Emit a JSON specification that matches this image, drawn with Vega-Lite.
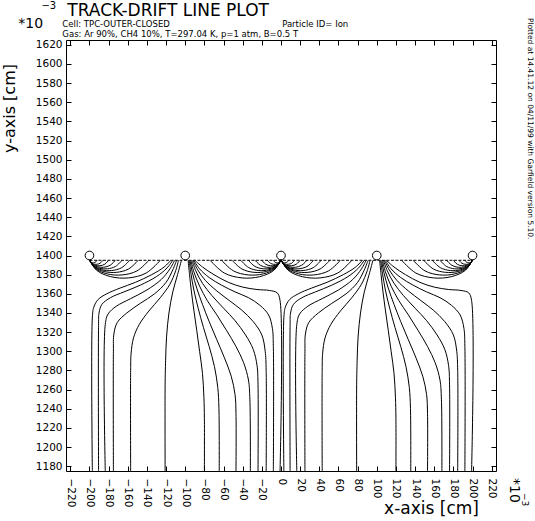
{
"$schema": "https://vega.github.io/schema/vega-lite/v6.json",
"width": 430, "height": 431,
"autosize": "none",
"padding": {"left": 66, "top": 40, "right": 39, "bottom": 50},
"background": "white",
"config": {
  "font": "DejaVu Sans",
  "view": {"stroke": "black", "strokeWidth": 1},
  "axis": {"grid": false, "domain": false, "tickColor": "black", "labelColor": "black", "titleColor": "black", "labelFont": "DejaVu Sans", "titleFont": "DejaVu Sans", "titleFontWeight": "normal", "labelFontSize": 10.5, "titleFontSize": 17, "labelFlush": false, "labelOverlap": false, "labelBound": false}
},
"datasets": {
"lines": [
{"g":"L1","x":-115,"y":1395},{"g":"L1","x":-122,"y":1388},{"g":"L1","x":-135,"y":1380},{"g":"L1","x":-152,"y":1372},{"g":"L1","x":-168,"y":1366},{"g":"L1","x":-182,"y":1360},{"g":"L1","x":-191,"y":1354},{"g":"L1","x":-195.5,"y":1346},{"g":"L1","x":-197,"y":1335},{"g":"L1","x":-197,"y":1175},
{"g":"L2","x":-113,"y":1395},{"g":"L2","x":-119,"y":1387},{"g":"L2","x":-130,"y":1378},{"g":"L2","x":-147,"y":1369},{"g":"L2","x":-164,"y":1362},{"g":"L2","x":-178,"y":1356},{"g":"L2","x":-187,"y":1349},{"g":"L2","x":-190,"y":1340},{"g":"L2","x":-190.5,"y":1327},{"g":"L2","x":-190.5,"y":1175},
{"g":"L3","x":-111,"y":1395},{"g":"L3","x":-116,"y":1386},{"g":"L3","x":-125,"y":1375},{"g":"L3","x":-140,"y":1364},{"g":"L3","x":-157,"y":1355},{"g":"L3","x":-172,"y":1347},{"g":"L3","x":-180.5,"y":1339},{"g":"L3","x":-183.5,"y":1328},{"g":"L3","x":-183.5,"y":1175},
{"g":"L4","x":-109,"y":1395},{"g":"L4","x":-113,"y":1385},{"g":"L4","x":-120,"y":1372},{"g":"L4","x":-132,"y":1360},{"g":"L4","x":-147,"y":1350},{"g":"L4","x":-161,"y":1340},{"g":"L4","x":-171,"y":1330},{"g":"L4","x":-174.5,"y":1318},{"g":"L4","x":-175,"y":1300},{"g":"L4","x":-175,"y":1175},
{"g":"L5","x":-107,"y":1395},{"g":"L5","x":-110,"y":1384},{"g":"L5","x":-116,"y":1370},{"g":"L5","x":-126,"y":1356},{"g":"L5","x":-138,"y":1342},{"g":"L5","x":-148,"y":1328},{"g":"L5","x":-154,"y":1314},{"g":"L5","x":-156.5,"y":1298},{"g":"L5","x":-157,"y":1280},{"g":"L5","x":-157,"y":1175},
{"g":"L6","x":-104,"y":1395},{"g":"L6","x":-108,"y":1380},{"g":"L6","x":-113,"y":1362},{"g":"L6","x":-117,"y":1340},{"g":"L6","x":-119.5,"y":1315},{"g":"L6","x":-120.5,"y":1290},{"g":"L6","x":-121,"y":1265},{"g":"L6","x":-121,"y":1175},
{"g":"R1","x":-97,"y":1395},{"g":"R1","x":-95.5,"y":1380},{"g":"R1","x":-93.5,"y":1362},{"g":"R1","x":-91,"y":1343},{"g":"R1","x":-88,"y":1322},{"g":"R1","x":-85,"y":1300},{"g":"R1","x":-82,"y":1277},{"g":"R1","x":-80.5,"y":1252},{"g":"R1","x":-80,"y":1230},{"g":"R1","x":-80,"y":1175},
{"g":"R2","x":-96,"y":1395},{"g":"R2","x":-94,"y":1381},{"g":"R2","x":-91,"y":1364},{"g":"R2","x":-86.5,"y":1345},{"g":"R2","x":-81,"y":1325},{"g":"R2","x":-75,"y":1305},{"g":"R2","x":-69.5,"y":1284},{"g":"R2","x":-66,"y":1262},{"g":"R2","x":-64.8,"y":1240},{"g":"R2","x":-64.5,"y":1175},
{"g":"R3","x":-95,"y":1395},{"g":"R3","x":-92.5,"y":1382},{"g":"R3","x":-88,"y":1366},{"g":"R3","x":-82,"y":1349},{"g":"R3","x":-75,"y":1331},{"g":"R3","x":-67,"y":1312},{"g":"R3","x":-59,"y":1293},{"g":"R3","x":-52,"y":1274},{"g":"R3","x":-48,"y":1255},{"g":"R3","x":-47,"y":1235},{"g":"R3","x":-47,"y":1175},
{"g":"R4","x":-94,"y":1395},{"g":"R4","x":-91,"y":1383},{"g":"R4","x":-85,"y":1368},{"g":"R4","x":-77,"y":1353},{"g":"R4","x":-67,"y":1338},{"g":"R4","x":-57,"y":1322},{"g":"R4","x":-47,"y":1305},{"g":"R4","x":-39,"y":1288},{"g":"R4","x":-34,"y":1270},{"g":"R4","x":-32.5,"y":1250},{"g":"R4","x":-32,"y":1175},
{"g":"R5","x":-93,"y":1395},{"g":"R5","x":-89,"y":1384},{"g":"R5","x":-82,"y":1371},{"g":"R5","x":-72,"y":1358},{"g":"R5","x":-60,"y":1345},{"g":"R5","x":-48,"y":1332},{"g":"R5","x":-37,"y":1317},{"g":"R5","x":-29,"y":1302},{"g":"R5","x":-25,"y":1285},{"g":"R5","x":-24,"y":1265},{"g":"R5","x":-24,"y":1175},
{"g":"R6","x":-92,"y":1395},{"g":"R6","x":-87,"y":1385},{"g":"R6","x":-79,"y":1374},{"g":"R6","x":-67,"y":1363},{"g":"R6","x":-54,"y":1353},{"g":"R6","x":-41,"y":1343},{"g":"R6","x":-29,"y":1331},{"g":"R6","x":-20,"y":1317},{"g":"R6","x":-16.5,"y":1300},{"g":"R6","x":-15.5,"y":1280},{"g":"R6","x":-15.5,"y":1175},
{"g":"R7","x":-91,"y":1395},{"g":"R7","x":-85,"y":1386},{"g":"R7","x":-75,"y":1377},{"g":"R7","x":-62,"y":1369},{"g":"R7","x":-48,"y":1362},{"g":"R7","x":-34,"y":1356},{"g":"R7","x":-22,"y":1348},{"g":"R7","x":-13,"y":1338},{"g":"R7","x":-9,"y":1324},{"g":"R7","x":-8,"y":1305},{"g":"R7","x":-8,"y":1175},
{"g":"RB","x":-90,"y":1395},{"g":"RB","x":-82,"y":1388},{"g":"RB","x":-70,"y":1380},{"g":"RB","x":-55,"y":1372},{"g":"RB","x":-40,"y":1367},{"g":"RB","x":-25,"y":1364.5},{"g":"RB","x":-12,"y":1363.5},{"g":"RB","x":-4,"y":1361},{"g":"RB","x":-1,"y":1353},{"g":"RB","x":-1,"y":1175},
{"g":"L1b","x":85,"y":1395},{"g":"L1b","x":78,"y":1388},{"g":"L1b","x":65,"y":1380},{"g":"L1b","x":48,"y":1372},{"g":"L1b","x":32,"y":1366},{"g":"L1b","x":18,"y":1360},{"g":"L1b","x":9,"y":1354},{"g":"L1b","x":4.5,"y":1346},{"g":"L1b","x":3,"y":1335},{"g":"L1b","x":3,"y":1175},
{"g":"L2b","x":87,"y":1395},{"g":"L2b","x":81,"y":1387},{"g":"L2b","x":70,"y":1378},{"g":"L2b","x":53,"y":1369},{"g":"L2b","x":36,"y":1362},{"g":"L2b","x":22,"y":1356},{"g":"L2b","x":13,"y":1349},{"g":"L2b","x":10,"y":1340},{"g":"L2b","x":9.5,"y":1327},{"g":"L2b","x":9.5,"y":1175},
{"g":"L3b","x":89,"y":1395},{"g":"L3b","x":84,"y":1386},{"g":"L3b","x":75,"y":1375},{"g":"L3b","x":60,"y":1364},{"g":"L3b","x":43,"y":1355},{"g":"L3b","x":28,"y":1347},{"g":"L3b","x":19.5,"y":1339},{"g":"L3b","x":16.5,"y":1328},{"g":"L3b","x":16.5,"y":1175},
{"g":"L4b","x":91,"y":1395},{"g":"L4b","x":87,"y":1385},{"g":"L4b","x":80,"y":1372},{"g":"L4b","x":68,"y":1360},{"g":"L4b","x":53,"y":1350},{"g":"L4b","x":39,"y":1340},{"g":"L4b","x":29,"y":1330},{"g":"L4b","x":25.5,"y":1318},{"g":"L4b","x":25,"y":1300},{"g":"L4b","x":25,"y":1175},
{"g":"L5b","x":93,"y":1395},{"g":"L5b","x":90,"y":1384},{"g":"L5b","x":84,"y":1370},{"g":"L5b","x":74,"y":1356},{"g":"L5b","x":62,"y":1342},{"g":"L5b","x":52,"y":1328},{"g":"L5b","x":46,"y":1314},{"g":"L5b","x":43.5,"y":1298},{"g":"L5b","x":43,"y":1280},{"g":"L5b","x":43,"y":1175},
{"g":"L6b","x":96,"y":1395},{"g":"L6b","x":92,"y":1380},{"g":"L6b","x":87,"y":1362},{"g":"L6b","x":83,"y":1340},{"g":"L6b","x":80.5,"y":1315},{"g":"L6b","x":79.5,"y":1290},{"g":"L6b","x":79,"y":1265},{"g":"L6b","x":79,"y":1175},
{"g":"R1b","x":103,"y":1395},{"g":"R1b","x":104.5,"y":1380},{"g":"R1b","x":106.5,"y":1362},{"g":"R1b","x":109,"y":1343},{"g":"R1b","x":112,"y":1322},{"g":"R1b","x":115,"y":1300},{"g":"R1b","x":118,"y":1277},{"g":"R1b","x":119.5,"y":1252},{"g":"R1b","x":120,"y":1230},{"g":"R1b","x":120,"y":1175},
{"g":"R2b","x":104,"y":1395},{"g":"R2b","x":106,"y":1381},{"g":"R2b","x":109,"y":1364},{"g":"R2b","x":113.5,"y":1345},{"g":"R2b","x":119,"y":1325},{"g":"R2b","x":125,"y":1305},{"g":"R2b","x":130.5,"y":1284},{"g":"R2b","x":134,"y":1262},{"g":"R2b","x":135.2,"y":1240},{"g":"R2b","x":135.5,"y":1175},
{"g":"R3b","x":105,"y":1395},{"g":"R3b","x":107.5,"y":1382},{"g":"R3b","x":112,"y":1366},{"g":"R3b","x":118,"y":1349},{"g":"R3b","x":125,"y":1331},{"g":"R3b","x":133,"y":1312},{"g":"R3b","x":141,"y":1293},{"g":"R3b","x":148,"y":1274},{"g":"R3b","x":152,"y":1255},{"g":"R3b","x":153,"y":1235},{"g":"R3b","x":153,"y":1175},
{"g":"R4b","x":106,"y":1395},{"g":"R4b","x":109,"y":1383},{"g":"R4b","x":115,"y":1368},{"g":"R4b","x":123,"y":1353},{"g":"R4b","x":133,"y":1338},{"g":"R4b","x":143,"y":1322},{"g":"R4b","x":153,"y":1305},{"g":"R4b","x":161,"y":1288},{"g":"R4b","x":166,"y":1270},{"g":"R4b","x":167.5,"y":1250},{"g":"R4b","x":168,"y":1175},
{"g":"R5b","x":107,"y":1395},{"g":"R5b","x":111,"y":1384},{"g":"R5b","x":118,"y":1371},{"g":"R5b","x":128,"y":1358},{"g":"R5b","x":140,"y":1345},{"g":"R5b","x":152,"y":1332},{"g":"R5b","x":163,"y":1317},{"g":"R5b","x":171,"y":1302},{"g":"R5b","x":175,"y":1285},{"g":"R5b","x":176,"y":1265},{"g":"R5b","x":176,"y":1175},
{"g":"R6b","x":108,"y":1395},{"g":"R6b","x":113,"y":1385},{"g":"R6b","x":121,"y":1374},{"g":"R6b","x":133,"y":1363},{"g":"R6b","x":146,"y":1353},{"g":"R6b","x":159,"y":1343},{"g":"R6b","x":171,"y":1331},{"g":"R6b","x":180,"y":1317},{"g":"R6b","x":183.5,"y":1300},{"g":"R6b","x":184.5,"y":1280},{"g":"R6b","x":184.5,"y":1175},
{"g":"R7b","x":109,"y":1395},{"g":"R7b","x":115,"y":1386},{"g":"R7b","x":125,"y":1377},{"g":"R7b","x":138,"y":1369},{"g":"R7b","x":152,"y":1362},{"g":"R7b","x":166,"y":1356},{"g":"R7b","x":178,"y":1348},{"g":"R7b","x":187,"y":1338},{"g":"R7b","x":191,"y":1324},{"g":"R7b","x":192,"y":1305},{"g":"R7b","x":192,"y":1175},
{"g":"RBb","x":110,"y":1395},{"g":"RBb","x":118,"y":1388},{"g":"RBb","x":130,"y":1380},{"g":"RBb","x":145,"y":1372},{"g":"RBb","x":160,"y":1367},{"g":"RBb","x":175,"y":1364.5},{"g":"RBb","x":188,"y":1363.5},{"g":"RBb","x":196,"y":1361},{"g":"RBb","x":199,"y":1353},{"g":"RBb","x":199,"y":1175},
{"g":"A1","x":-192,"y":1395},{"g":"A1","x":-193.6,"y":1393.1},{"g":"A1","x":-195.6,"y":1392.4},{"g":"A1","x":-197.6,"y":1392.6},{"g":"A1","x":-199.2,"y":1393.5},{"g":"A1","x":-200,"y":1396},
{"g":"A2","x":-186,"y":1395},{"g":"A2","x":-188.8,"y":1392},{"g":"A2","x":-192.3,"y":1390.8},{"g":"A2","x":-195.8,"y":1391.1},{"g":"A2","x":-198.6,"y":1392.6},{"g":"A2","x":-200,"y":1396},
{"g":"A3","x":-180,"y":1395},{"g":"A3","x":-184,"y":1390.9},{"g":"A3","x":-189,"y":1389.3},{"g":"A3","x":-194,"y":1389.7},{"g":"A3","x":-198,"y":1391.8},{"g":"A3","x":-200,"y":1396},
{"g":"A4","x":-173,"y":1395},{"g":"A4","x":-178.4,"y":1389.8},{"g":"A4","x":-185.1,"y":1387.7},{"g":"A4","x":-191.9,"y":1388.3},{"g":"A4","x":-197.3,"y":1390.9},{"g":"A4","x":-200,"y":1396},
{"g":"A5","x":-166,"y":1395},{"g":"A5","x":-172.8,"y":1388.6},{"g":"A5","x":-181.3,"y":1386.1},{"g":"A5","x":-189.8,"y":1386.7},{"g":"A5","x":-196.6,"y":1389.9},{"g":"A5","x":-200,"y":1396},
{"g":"A6","x":-158,"y":1395},{"g":"A6","x":-166.4,"y":1387.3},{"g":"A6","x":-176.9,"y":1384.3},{"g":"A6","x":-187.4,"y":1385.1},{"g":"A6","x":-195.8,"y":1389},{"g":"A6","x":-200,"y":1396},
{"g":"A7","x":-149,"y":1395},{"g":"A7","x":-159.2,"y":1385.9},{"g":"A7","x":-171.9,"y":1382.4},{"g":"A7","x":-184.7,"y":1383.3},{"g":"A7","x":-194.9,"y":1387.9},{"g":"A7","x":-200,"y":1396},
{"g":"A8","x":-138,"y":1395},{"g":"A8","x":-150.4,"y":1383.9},{"g":"A8","x":-165.9,"y":1379.7},{"g":"A8","x":-181.4,"y":1380.8},{"g":"A8","x":-193.8,"y":1386.3},{"g":"A8","x":-200,"y":1396},
{"g":"A9","x":-126,"y":1395},{"g":"A9","x":-140.8,"y":1381.7},{"g":"A9","x":-159.3,"y":1376.6},{"g":"A9","x":-177.8,"y":1377.9},{"g":"A9","x":-192.6,"y":1384.6},{"g":"A9","x":-200,"y":1396},
{"g":"B1","x":-8,"y":1395},{"g":"B1","x":-6.4,"y":1393.1},{"g":"B1","x":-4.4,"y":1392.4},{"g":"B1","x":-2.4,"y":1392.6},{"g":"B1","x":-0.8,"y":1393.5},{"g":"B1","x":0,"y":1396},
{"g":"B2","x":-14,"y":1395},{"g":"B2","x":-11.2,"y":1392},{"g":"B2","x":-7.7,"y":1390.8},{"g":"B2","x":-4.2,"y":1391.1},{"g":"B2","x":-1.4,"y":1392.6},{"g":"B2","x":0,"y":1396},
{"g":"B3","x":-20,"y":1395},{"g":"B3","x":-16,"y":1390.9},{"g":"B3","x":-11,"y":1389.3},{"g":"B3","x":-6,"y":1389.7},{"g":"B3","x":-2,"y":1391.8},{"g":"B3","x":0,"y":1396},
{"g":"B4","x":-27,"y":1395},{"g":"B4","x":-21.6,"y":1389.8},{"g":"B4","x":-14.9,"y":1387.7},{"g":"B4","x":-8.1,"y":1388.3},{"g":"B4","x":-2.7,"y":1390.9},{"g":"B4","x":0,"y":1396},
{"g":"B5","x":-34,"y":1395},{"g":"B5","x":-27.2,"y":1388.6},{"g":"B5","x":-18.7,"y":1386.1},{"g":"B5","x":-10.2,"y":1386.7},{"g":"B5","x":-3.4,"y":1389.9},{"g":"B5","x":0,"y":1396},
{"g":"B6","x":-42,"y":1395},{"g":"B6","x":-33.6,"y":1387.3},{"g":"B6","x":-23.1,"y":1384.3},{"g":"B6","x":-12.6,"y":1385.1},{"g":"B6","x":-4.2,"y":1389},{"g":"B6","x":0,"y":1396},
{"g":"B7","x":-51,"y":1395},{"g":"B7","x":-40.8,"y":1385.9},{"g":"B7","x":-28.1,"y":1382.4},{"g":"B7","x":-15.3,"y":1383.3},{"g":"B7","x":-5.1,"y":1387.9},{"g":"B7","x":0,"y":1396},
{"g":"B8","x":-62,"y":1395},{"g":"B8","x":-49.6,"y":1383.9},{"g":"B8","x":-34.1,"y":1379.7},{"g":"B8","x":-18.6,"y":1380.8},{"g":"B8","x":-6.2,"y":1386.3},{"g":"B8","x":0,"y":1396},
{"g":"B9","x":-74,"y":1395},{"g":"B9","x":-59.2,"y":1381.7},{"g":"B9","x":-40.7,"y":1376.6},{"g":"B9","x":-22.2,"y":1377.9},{"g":"B9","x":-7.4,"y":1384.6},{"g":"B9","x":0,"y":1396},
{"g":"C1","x":8,"y":1395},{"g":"C1","x":6.4,"y":1393.1},{"g":"C1","x":4.4,"y":1392.4},{"g":"C1","x":2.4,"y":1392.6},{"g":"C1","x":0.8,"y":1393.5},{"g":"C1","x":0,"y":1396},
{"g":"C2","x":14,"y":1395},{"g":"C2","x":11.2,"y":1392},{"g":"C2","x":7.7,"y":1390.8},{"g":"C2","x":4.2,"y":1391.1},{"g":"C2","x":1.4,"y":1392.6},{"g":"C2","x":0,"y":1396},
{"g":"C3","x":20,"y":1395},{"g":"C3","x":16,"y":1390.9},{"g":"C3","x":11,"y":1389.3},{"g":"C3","x":6,"y":1389.7},{"g":"C3","x":2,"y":1391.8},{"g":"C3","x":0,"y":1396},
{"g":"C4","x":27,"y":1395},{"g":"C4","x":21.6,"y":1389.8},{"g":"C4","x":14.9,"y":1387.7},{"g":"C4","x":8.1,"y":1388.3},{"g":"C4","x":2.7,"y":1390.9},{"g":"C4","x":0,"y":1396},
{"g":"C5","x":34,"y":1395},{"g":"C5","x":27.2,"y":1388.6},{"g":"C5","x":18.7,"y":1386.1},{"g":"C5","x":10.2,"y":1386.7},{"g":"C5","x":3.4,"y":1389.9},{"g":"C5","x":0,"y":1396},
{"g":"C6","x":42,"y":1395},{"g":"C6","x":33.6,"y":1387.3},{"g":"C6","x":23.1,"y":1384.3},{"g":"C6","x":12.6,"y":1385.1},{"g":"C6","x":4.2,"y":1389},{"g":"C6","x":0,"y":1396},
{"g":"C7","x":51,"y":1395},{"g":"C7","x":40.8,"y":1385.9},{"g":"C7","x":28.1,"y":1382.4},{"g":"C7","x":15.3,"y":1383.3},{"g":"C7","x":5.1,"y":1387.9},{"g":"C7","x":0,"y":1396},
{"g":"C8","x":62,"y":1395},{"g":"C8","x":49.6,"y":1383.9},{"g":"C8","x":34.1,"y":1379.7},{"g":"C8","x":18.6,"y":1380.8},{"g":"C8","x":6.2,"y":1386.3},{"g":"C8","x":0,"y":1396},
{"g":"C9","x":74,"y":1395},{"g":"C9","x":59.2,"y":1381.7},{"g":"C9","x":40.7,"y":1376.6},{"g":"C9","x":22.2,"y":1377.9},{"g":"C9","x":7.4,"y":1384.6},{"g":"C9","x":0,"y":1396},
{"g":"D1","x":192,"y":1395},{"g":"D1","x":193.6,"y":1393.1},{"g":"D1","x":195.6,"y":1392.4},{"g":"D1","x":197.6,"y":1392.6},{"g":"D1","x":199.2,"y":1393.5},{"g":"D1","x":200,"y":1396},
{"g":"D2","x":186,"y":1395},{"g":"D2","x":188.8,"y":1392},{"g":"D2","x":192.3,"y":1390.8},{"g":"D2","x":195.8,"y":1391.1},{"g":"D2","x":198.6,"y":1392.6},{"g":"D2","x":200,"y":1396},
{"g":"D3","x":180,"y":1395},{"g":"D3","x":184,"y":1390.9},{"g":"D3","x":189,"y":1389.3},{"g":"D3","x":194,"y":1389.7},{"g":"D3","x":198,"y":1391.8},{"g":"D3","x":200,"y":1396},
{"g":"D4","x":173,"y":1395},{"g":"D4","x":178.4,"y":1389.8},{"g":"D4","x":185.1,"y":1387.7},{"g":"D4","x":191.9,"y":1388.3},{"g":"D4","x":197.3,"y":1390.9},{"g":"D4","x":200,"y":1396},
{"g":"D5","x":166,"y":1395},{"g":"D5","x":172.8,"y":1388.6},{"g":"D5","x":181.3,"y":1386.1},{"g":"D5","x":189.8,"y":1386.7},{"g":"D5","x":196.6,"y":1389.9},{"g":"D5","x":200,"y":1396},
{"g":"D6","x":158,"y":1395},{"g":"D6","x":166.4,"y":1387.3},{"g":"D6","x":176.9,"y":1384.3},{"g":"D6","x":187.4,"y":1385.1},{"g":"D6","x":195.8,"y":1389},{"g":"D6","x":200,"y":1396},
{"g":"D7","x":149,"y":1395},{"g":"D7","x":159.2,"y":1385.9},{"g":"D7","x":171.9,"y":1382.4},{"g":"D7","x":184.7,"y":1383.3},{"g":"D7","x":194.9,"y":1387.9},{"g":"D7","x":200,"y":1396},
{"g":"D8","x":138,"y":1395},{"g":"D8","x":150.4,"y":1383.9},{"g":"D8","x":165.9,"y":1379.7},{"g":"D8","x":181.4,"y":1380.8},{"g":"D8","x":193.8,"y":1386.3},{"g":"D8","x":200,"y":1396},
{"g":"D9","x":126,"y":1395},{"g":"D9","x":140.8,"y":1381.7},{"g":"D9","x":159.3,"y":1376.6},{"g":"D9","x":177.8,"y":1377.9},{"g":"D9","x":192.6,"y":1384.6},{"g":"D9","x":200,"y":1396}
],
"wires": [{"x":-200,"y":1400},{"x":-100,"y":1400},{"x":0,"y":1400},{"x":100,"y":1400},{"x":200,"y":1400}],
"one": [{}]
},
"layer": [
{
  "data": {"name": "lines"},
  "mark": {"type": "line", "interpolate": "catmull-rom", "color": "black", "strokeWidth": 1},
  "encoding": {
    "x": {"field": "x", "type": "quantitative", "scale": {"domain": [-224.5, 224.5], "nice": false, "zero": false},
      "axis": {"orient": "bottom", "values": [-220,-200,-180,-160,-140,-120,-100,-80,-60,-40,-20,0,20,40,60,80,100,120,140,160,180,200,220], "tickSize": -5, "labelAngle": 90, "labelAlign": "left", "labelBaseline": "middle", "labelPadding": 12, "title": "x-axis [cm]", "titleX": 365, "titleY": 42, "titleAlign": "center", "titleBaseline": "alphabetic", "titleAngle": 0}},
    "y": {"field": "y", "type": "quantitative", "scale": {"domain": [1175, 1625], "nice": false, "zero": false},
      "axis": {"orient": "left", "format": "d", "values": [1180,1200,1220,1240,1260,1280,1300,1320,1340,1360,1380,1400,1420,1440,1460,1480,1500,1520,1540,1560,1580,1600,1620], "tickSize": -5, "labelPadding": 9, "title": "y-axis [cm]", "titleFontSize": 16, "titleX": -52, "titleY": 68, "titleAngle": 270, "titleAlign": "center", "titleBaseline": "alphabetic"}},
    "detail": {"field": "g"},
    "order": {"value": null}
  }
},
{
  "data": {"name": "one"},
  "mark": {"type": "rule", "strokeDash": [3, 1.5], "color": "black", "strokeWidth": 1},
  "encoding": {
    "x": {"datum": -200, "type": "quantitative", "axis": null},
    "x2": {"datum": 200},
    "y": {"datum": 1395, "type": "quantitative", "axis": null}
  }
},
{
  "data": {"name": "wires"},
  "mark": {"type": "point", "shape": "circle", "filled": true, "fill": "white", "stroke": "black", "strokeWidth": 1, "size": 75, "opacity": 1},
  "encoding": {
    "x": {"field": "x", "type": "quantitative", "axis": {"orient": "top", "values": [-220,-200,-180,-160,-140,-120,-100,-80,-60,-40,-20,0,20,40,60,80,100,120,140,160,180,200,220], "tickSize": -5, "labels": false, "title": null}},
    "y": {"field": "y", "type": "quantitative", "axis": {"orient": "right", "values": [1180,1200,1220,1240,1260,1280,1300,1320,1340,1360,1380,1400,1420,1440,1460,1480,1500,1520,1540,1560,1580,1600,1620], "tickSize": -5, "labels": false, "title": null}}
  }
},
{
  "data": {"name": "one"},
  "mark": {"type": "text", "text": "TRACK-DRIFT LINE PLOT", "fontSize": 17, "align": "left", "baseline": "alphabetic", "color": "black"},
  "encoding": {"x": {"datum": -223.1, "type": "quantitative", "axis": null}, "y": {"datum": 1650.2, "type": "quantitative", "axis": null}}
},
{
  "data": {"name": "one"},
  "mark": {"type": "text", "text": "*10", "fontSize": 14, "align": "left", "baseline": "alphabetic", "color": "black"},
  "encoding": {"x": {"datum": -274.3, "type": "quantitative", "axis": null}, "y": {"datum": 1637.7, "type": "quantitative", "axis": null}}
},
{
  "data": {"name": "one"},
  "mark": {"type": "text", "text": "−3", "fontSize": 10, "align": "left", "baseline": "alphabetic", "color": "black"},
  "encoding": {"x": {"datum": -250.2, "type": "quantitative", "axis": null}, "y": {"datum": 1657.5, "type": "quantitative", "axis": null}}
},
{
  "data": {"name": "one"},
  "mark": {"type": "text", "text": "Cell: TPC-OUTER-CLOSED", "fontSize": 8.5, "align": "left", "baseline": "alphabetic", "color": "black"},
  "encoding": {"x": {"datum": -228.3, "type": "quantitative", "axis": null}, "y": {"datum": 1638.1, "type": "quantitative", "axis": null}}
},
{
  "data": {"name": "one"},
  "mark": {"type": "text", "text": "Particle ID= Ion", "fontSize": 8.5, "align": "left", "baseline": "alphabetic", "color": "black"},
  "encoding": {"x": {"datum": 1.2, "type": "quantitative", "axis": null}, "y": {"datum": 1638.1, "type": "quantitative", "axis": null}}
},
{
  "data": {"name": "one"},
  "mark": {"type": "text", "text": "Gas: Ar 90%, CH4 10%, T=297.04 K, p=1 atm, B=0.5 T", "fontSize": 8.5, "align": "left", "baseline": "alphabetic", "color": "black"},
  "encoding": {"x": {"datum": -228.3, "type": "quantitative", "axis": null}, "y": {"datum": 1627.7, "type": "quantitative", "axis": null}}
},
{
  "data": {"name": "one"},
  "mark": {"type": "text", "text": "Plotted at 14.41.12 on 04/11/99 with Garfield version 5.10.", "fontSize": 7.5, "angle": 90, "align": "left", "baseline": "alphabetic", "color": "black"},
  "encoding": {"x": {"datum": 257.4, "type": "quantitative", "axis": null}, "y": {"datum": 1648.1, "type": "quantitative", "axis": null}}
},
{
  "data": {"name": "one"},
  "mark": {"type": "text", "text": "*10", "fontSize": 14, "angle": 90, "align": "left", "baseline": "alphabetic", "color": "black"},
  "encoding": {"x": {"datum": 239.1, "type": "quantitative", "axis": null}, "y": {"datum": 1167.7, "type": "quantitative", "axis": null}}
},
{
  "data": {"name": "one"},
  "mark": {"type": "text", "text": "−3", "fontSize": 9, "angle": 90, "align": "left", "baseline": "alphabetic", "color": "black"},
  "encoding": {"x": {"datum": 251.6, "type": "quantitative", "axis": null}, "y": {"datum": 1152.1, "type": "quantitative", "axis": null}}
}
],
"resolve": {"axis": {"x": "independent", "y": "independent"}}
}
